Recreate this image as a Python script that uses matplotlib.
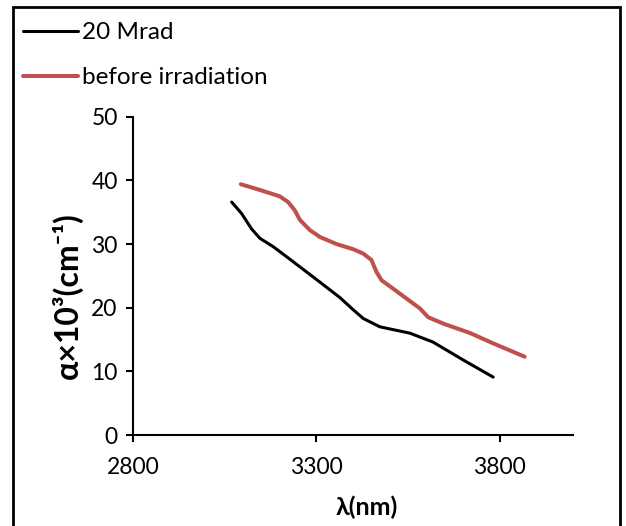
import matplotlib
matplotlib.use("Agg")
import matplotlib.pyplot as plt
from matplotlib.patches import Rectangle

plt.rcParams['font.family'] = ['Lato', 'DejaVu Sans']

# absorption coefficient vs wavelength
wl_20mrad = [3069, 3096, 3123, 3146, 3182, 3219, 3260, 3310, 3364, 3400, 3428, 3473, 3555, 3618, 3700, 3782]
alpha_20mrad = [36.6, 34.8, 32.4, 30.9, 29.6, 28.0, 26.2, 24.0, 21.6, 19.7, 18.3, 17.0, 16.0, 14.6, 11.8, 9.1]

wl_before = [3094, 3146, 3200, 3223, 3241, 3255, 3282, 3310, 3355, 3400, 3428, 3450, 3464, 3478,
             3509, 3582, 3605, 3646, 3720, 3782, 3868]
alpha_before = [39.4, 38.5, 37.5, 36.6, 35.3, 33.8, 32.2, 31.1, 30.0, 29.2, 28.5, 27.5, 25.6, 24.3,
                23.0, 19.9, 18.5, 17.5, 16.0, 14.4, 12.3]

x_ticks = [2800, 3300, 3800]
y_ticks = [0, 10, 20, 30, 40, 50]

fig = plt.figure(figsize=(6.26, 5.26), dpi=100)
ax = fig.add_axes([0.2125, 0.173, 0.703, 0.605])

l1, = ax.plot(wl_20mrad, alpha_20mrad, color="black", lw=2.2, solid_capstyle="round")
l2, = ax.plot(wl_before, alpha_before, color="#C0504D", lw=2.9, solid_capstyle="round")

ax.set_xlim(2800, 4000)
ax.set_ylim(0, 50)
ax.set_xticks(x_ticks)
ax.set_yticks(y_ticks)
ax.tick_params(axis="both", labelsize=16.5, width=1.5, length=5, direction="out")
ax.tick_params(axis="x", pad=11)
ax.tick_params(axis="y", pad=6)
for s in ["top", "right"]:
    ax.spines[s].set_visible(False)
for s in ["left", "bottom"]:
    ax.spines[s].set_linewidth(1.5)

ax.set_xlabel("λ(nm)", fontsize=18, fontweight="bold")
ax.set_ylabel("α×10³(cm⁻¹)", fontsize=23, fontweight="bold")
ax.xaxis.set_label_coords(0.53, -0.19)
ax.yaxis.set_label_coords(-0.115, 0.437)

fig.legend([l1, l2], ["20 Mrad", "before irradiation"], loc="upper left",
           bbox_to_anchor=(23 / 626, 1 - 22 / 526), borderpad=0, borderaxespad=0,
           frameon=False, fontsize=17.5, handlelength=2.25, handletextpad=0.17,
           labelspacing=1.0)

# outer frame
fig.patches.append(Rectangle((13 / 626, -0.05), 607 / 626, 1 - 7 / 526 + 0.05,
                             transform=fig.transFigure, fill=False,
                             edgecolor="black", lw=2))

fig.savefig("out.png", dpi=100)
